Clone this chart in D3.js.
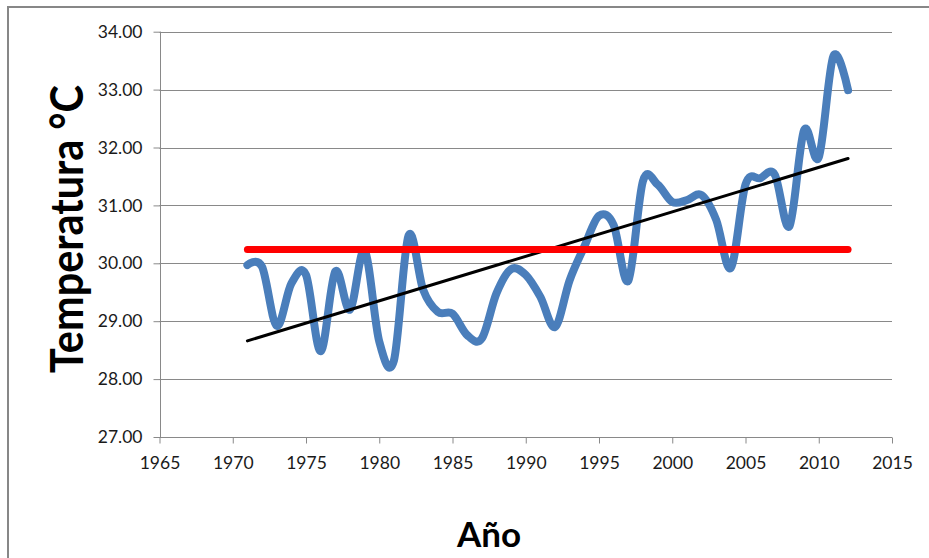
<!DOCTYPE html>
<html>
<head>
<meta charset="utf-8">
<script src="https://cdn.jsdelivr.net/npm/d3@7"></script>
<style>
  body { margin: 0; background: #fff; }
  svg { display: block; }
</style>
</head>
<body>
<svg id="chart"></svg>
<script>
// yearly mean temperature
const years = d3.range(1971, 2013);
const temps = [
  29.97, 29.94, 28.92, 29.65, 29.80, 28.48, 29.86, 29.20, 30.22, 28.65,
  28.32, 30.48, 29.54, 29.16, 29.13, 28.76, 28.70, 29.48, 29.90, 29.80,
  29.42, 28.90, 29.71, 30.29, 30.82, 30.66, 29.70, 31.42, 31.36, 31.06,
  31.09, 31.18, 30.75, 29.92, 31.36, 31.47, 31.53, 30.64, 32.30, 31.83,
  33.58, 32.99
];
// horizontal reference (mean) and linear trend end points
const meanLine = [[1971, 30.24], [2012, 30.24]];
const trendLine = [[1971, 28.66], [2012, 31.81]];

const xTicks = d3.range(1965, 2016, 5);
const yTicks = d3.range(27, 34.01, 1);

const width = 929, height = 558;
const margin = {top: 32, right: 37, bottom: 121, left: 160};

const svg = d3.select("#chart")
    .attr("width", width)
    .attr("height", height);

// outer chart border (only top and left are inside the picture)
svg.append("rect")
    .attr("x", 8).attr("y", 7)
    .attr("width", 940).attr("height", 580)
    .style("fill", "none")
    .style("stroke", "#878787")
    .style("stroke-width", 2);

const x = d3.scaleLinear().domain([1965, 2015]).range([margin.left - 0.5, width - margin.right]);
const y = d3.scaleLinear().domain([27, 34]).range([height - margin.bottom, margin.top - 0.3]);

const gridColor = "#898989";
const tickFont = "Lato, 'Open Sans', sans-serif";

// horizontal gridlines
svg.append("g")
  .selectAll("line")
  .data(yTicks)
  .join("line")
    .attr("x1", x(1965)).attr("x2", x(2015))
    .attr("y1", d => Math.round(y(d)) + 0.5)
    .attr("y2", d => Math.round(y(d)) + 0.5)
    .style("stroke", gridColor)
    .style("stroke-width", 1);

// y axis
const yAxis = svg.append("g")
    .attr("transform", "translate(" + (Math.round(x(1965)) + 0.5) + ",0)")
    .call(d3.axisLeft(y).tickValues(yTicks).tickFormat(d3.format(".2f")).tickSize(7).tickPadding(11));

// x axis
const xAxis = svg.append("g")
    .attr("transform", "translate(0," + (Math.round(y(27)) + 0.5) + ")")
    .call(d3.axisBottom(x).tickValues(xTicks).tickFormat(d3.format("d")).tickSize(6).tickPadding(13));

[yAxis, xAxis].forEach(function(a) {
  a.selectAll("path, line").style("stroke", gridColor).style("stroke-width", 1);
  a.select(".domain").attr("d", a === xAxis
    ? "M" + x(1965) + ",0H" + x(2015)
    : "M0," + y(27) + "V" + y(34));
  a.selectAll("text")
      .style("font-family", tickFont)
      .style("font-size", "17.5px")
      .style("fill", "#1a1a1a");
});

// temperature series
const line = d3.line()
    .x((d, i) => x(years[i]))
    .y(d => y(d))
    .curve(d3.curveCardinal.tension(0));

svg.append("path")
    .datum(temps)
    .attr("d", line)
    .style("fill", "none")
    .style("stroke", "#4a7ebb")
    .style("stroke-width", 8)
    .style("stroke-linecap", "round")
    .style("stroke-linejoin", "round");

// trend line
svg.append("line")
    .attr("x1", x(trendLine[0][0])).attr("y1", y(trendLine[0][1]))
    .attr("x2", x(trendLine[1][0])).attr("y2", y(trendLine[1][1]))
    .style("stroke", "#000")
    .style("stroke-width", 3)
    .style("stroke-linecap", "round");

// mean line
svg.append("line")
    .attr("x1", x(meanLine[0][0])).attr("y1", y(meanLine[0][1]))
    .attr("x2", x(meanLine[1][0])).attr("y2", y(meanLine[1][1]))
    .style("stroke", "#ff0000")
    .style("stroke-width", 7)
    .style("stroke-linecap", "round");

// axis titles
svg.append("text")
    .attr("transform", "translate(83,229) rotate(-90)")
    .attr("text-anchor", "middle")
    .attr("textLength", 288)
    .attr("lengthAdjust", "spacingAndGlyphs")
    .style("font-family", "Lato, 'Open Sans', sans-serif")
    .style("font-weight", "bold")
    .style("font-size", "46px")
    .text("Temperatura °C");

svg.append("text")
    .attr("x", 489)
    .attr("y", 547)
    .attr("text-anchor", "middle")
    .style("font-family", "Lato, 'Open Sans', sans-serif")
    .style("font-weight", "bold")
    .style("font-size", "35px")
    .text("Año");
</script>
</body>
</html>
